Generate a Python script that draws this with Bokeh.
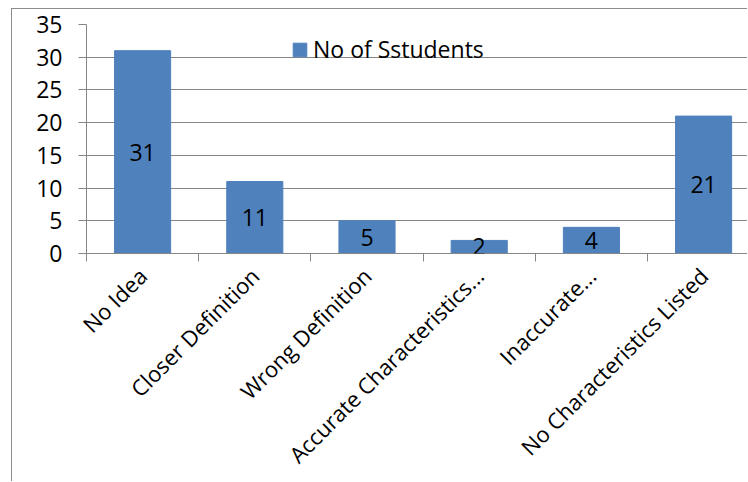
from bokeh.plotting import figure
from bokeh.models import Range1d, FixedTicker, ColumnDataSource, LabelSet
from bokeh.core.properties import value
from bokeh.embed import file_html
from bokeh.resources import INLINE
import math

# Survey responses per category
categories = ["No Idea", "Closer Definition", "Wrong Definition",
              "Accurate Characteristics...", "Inaccurate...",
              "No Characteristics Listed"]
students = [31, 11, 5, 2, 4, 21]
series_name = "No of Sstudents"
y_ticks = [0, 5, 10, 15, 20, 25, 30, 35]

FONT = "Open Sans"
GRID = "#868686"
BORDER = "#8c8c8c"
BAR = "#4F81BD"

# chart box starts at (11, 8) on the page; canvas sits inside its 1px border
OFF_X, OFF_Y = 12, 9
W, H = 748 - OFF_X, 482 - OFF_Y
LEFT, TOP, BOTTOM = 86 - OFF_X, 24 - OFF_Y, 253 - OFF_Y
cat_px = 112.2  # width of one category slot in pixels

centers = [i + 0.5 for i in range(len(categories))]
source = ColumnDataSource(dict(
    x=centers,
    top=students,
    mid=[v / 2 for v in students],
    txt=[str(v) for v in students],
))

p = figure(width=W, height=H, output_backend="svg", toolbar_location=None,
           x_range=Range1d(0, (W - LEFT) / cat_px), y_range=Range1d(0, 35),
           min_border_left=LEFT, min_border_right=0, min_border_top=TOP,
           min_border_bottom=H - BOTTOM)
p.margin = (OFF_Y - 1, 0, 0, OFF_X - 1)
p.styles = {"border-left": f"1px solid {BORDER}",
            "border-top": f"1px solid {BORDER}"}
p.outline_line_color = None
p.background_fill_color = "white"
p.border_fill_color = "white"

p.vbar(x="x", top="top", width=0.5, source=source, fill_color=BAR,
       line_color=BAR, legend_label=series_name)

p.add_layout(LabelSet(x="x", y="mid", text="txt", source=source,
                      text_align="center", text_baseline="middle",
                      text_font=value(FONT), text_font_size=value("23px"),
                      text_color="black"))

# y axis
yax = p.yaxis[0]
yax.ticker = FixedTicker(ticks=y_ticks)
yax.major_tick_in = 0
yax.major_tick_out = 8
yax.minor_tick_line_color = None
yax.axis_line_color = GRID
yax.major_tick_line_color = GRID
yax.major_label_standoff = 16
yax.major_label_text_font = FONT
yax.major_label_text_font_size = "23px"
yax.major_label_text_color = "black"

# x axis: labels at slot centres, tick marks at slot boundaries
xax = p.xaxis[0]
xax.ticker = FixedTicker(ticks=centers,
                         minor_ticks=list(range(len(categories) + 1)))
xax.major_label_overrides = {c: name for c, name in zip(centers, categories)}
xax.major_tick_line_color = None
xax.minor_tick_in = 0
xax.minor_tick_out = 8
xax.minor_tick_line_color = GRID
xax.axis_line_color = GRID
xax.major_label_orientation = math.pi / 4
xax.major_label_standoff = 10
xax.major_label_text_font = FONT
xax.major_label_text_font_size = "22px"
xax.major_label_text_color = "black"

p.xgrid.grid_line_color = None
p.ygrid.ticker = FixedTicker(ticks=y_ticks)
p.ygrid.grid_line_color = GRID
p.ygrid.grid_line_width = 1

lg = p.legend[0]
lg.location = (205, 188)
lg.padding = 0
lg.margin = 0
lg.spacing = 0
lg.border_line_alpha = 0
lg.background_fill_alpha = 0
lg.glyph_width = 17
lg.glyph_height = 17
lg.label_height = 28
lg.label_standoff = 5
lg.label_text_font = FONT
lg.label_text_font_size = "23px"
lg.label_text_color = "black"

open("out.html", "w").write(file_html(p, INLINE))
